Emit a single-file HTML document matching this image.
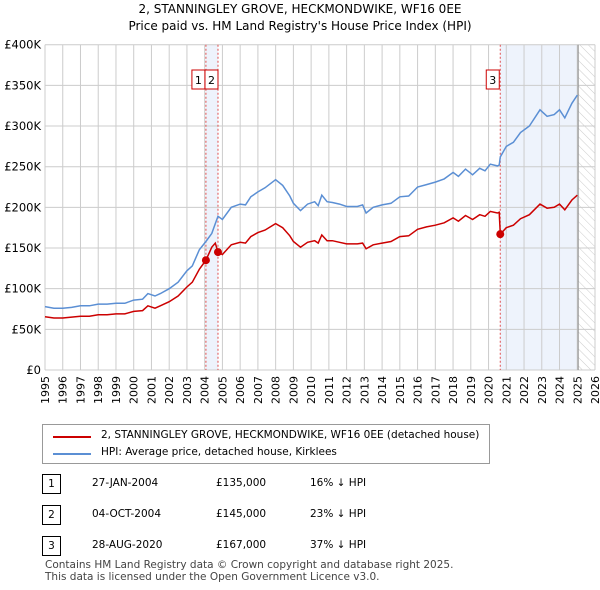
<!DOCTYPE html>
<html><head><meta charset="utf-8"><style>
body{margin:0;background:#fff;font-family:"DejaVu Sans","Liberation Sans",sans-serif;}
#w{position:relative;width:600px;height:590px;overflow:hidden;}
.t{position:absolute;font-size:12px;color:#000;white-space:nowrap;}
</style></head><body><div id="w">
<div class="t" style="left:0;width:600px;text-align:center;top:2px;font-size:12px">2, STANNINGLEY GROVE, HECKMONDWIKE, WF16 0EE</div>
<div class="t" style="left:0;width:600px;text-align:center;top:19px;font-size:12px">Price paid vs. HM Land Registry's House Price Index (HPI)</div>
<svg id="c" width="600" height="420" style="position:absolute;left:0;top:0;font-family:'DejaVu Sans',sans-serif"></svg>
<div style="position:absolute;left:42px;top:424px;width:446px;height:38px;border:1px solid #999;background:#fff">
<div style="position:absolute;left:10px;top:11px;width:38px;border-top:2px solid #cc0000"></div>
<div class="t" style="left:58px;top:4px;font-size:10.5px">2, STANNINGLEY GROVE, HECKMONDWIKE, WF16 0EE (detached house)</div>
<div style="position:absolute;left:10px;top:28px;width:38px;border-top:2px solid #5b8fd4"></div>
<div class="t" style="left:58px;top:21px;font-size:10.5px">HPI: Average price, detached house, Kirklees</div>
</div>
<div id="tbl"></div>
<div class="t" style="left:45px;top:559px;font-size:10.5px;color:#444">Contains HM Land Registry data © Crown copyright and database right 2025.</div>
<div class="t" style="left:45px;top:571px;font-size:10.5px;color:#444">This data is licensed under the Open Government Licence v3.0.</div>
</div>
<script>
const years=[1995,1995.5,1996,1996.5,1997,1997.5,1998,1998.5,1999,1999.5,2000,2000.5,2000.8,2001.2,2001.5,2002,2002.5,2003,2003.3,2003.7,2004.07,2004.4,2004.6,2004.75,2005,2005.5,2006,2006.3,2006.6,2007,2007.4,2008,2008.4,2008.8,2009,2009.4,2009.8,2010.2,2010.4,2010.6,2010.9,2011.2,2011.6,2012,2012.6,2012.9,2013.1,2013.5,2014,2014.5,2015,2015.5,2016,2016.5,2017,2017.5,2018,2018.3,2018.7,2019.1,2019.5,2019.8,2020.1,2020.5,2020.6,2020.66,2021,2021.4,2021.8,2022.3,2022.9,2023.3,2023.7,2024,2024.3,2024.7,2025];
const hpiValues=[78,76,76,77,79,79,81,81,82,82,86,87,94,91,94,100,108,122,128,148,158,168,180,189,185,200,204,203,213,219,224,234,227,214,205,196,204,207,202,215,207,206,204,201,201,203,193,200,203,205,213,214,225,228,231,235,243,238,247,240,248,245,253,251,252,262,275,280,292,300,320,312,314,320,310,328,338];
const priceValues=[65.5,64,64,65,66,66,68,68,69,69,72,73,79,76,79,84,91,102,108,124,135,151,156,145,142,154,157,156,164,169,172,180,175,165,158,151,157,159,156,166,159,159,157,155,155,156,149,154,156,158,164,165,173,176,178,181,187,183,190,185,191,189,195,193,194,167,175,178,186,191,204,199,200,204,197,209,215];
const saleDates=[2004.07,2004.75,2020.66];
const salePrices=[135,145,167];
const saleLabels=["1","2","3"];
const yTicks=[0,50,100,150,200,250,300,350,400];
const yTickLabels=["£0","£50K","£100K","£150K","£200K","£250K","£300K","£350K","£400K"];
const xTicks=[1995,1996,1997,1998,1999,2000,2001,2002,2003,2004,2005,2006,2007,2008,2009,2010,2011,2012,2013,2014,2015,2016,2017,2018,2019,2020,2021,2022,2023,2024,2025,2026];
const rowDates=["27-JAN-2004","04-OCT-2004","28-AUG-2020"];
const rowPrices=["£135,000","£145,000","£167,000"];
const rowHpi=["16% ↓ HPI","23% ↓ HPI","37% ↓ HPI"];

const L=45,R=595,T=44.7,B=370,x0=1995,x1=2026,ymax=400;
const X=v=>L+(v-x0)/(x1-x0)*(R-L);
const Y=v=>B-v/ymax*(B-T);
const s=document.getElementById('c');const NS='http://www.w3.org/2000/svg';
function add(tag,attrs,name,parent){const e=document.createElementNS(NS,tag);for(const k in attrs)e.setAttribute(k,attrs[k]);


(parent||s).appendChild(e);return e;}
const defs=add('defs',{},'defs');
const pat=add('pattern',{id:'h',width:6,height:6,patternUnits:'userSpaceOnUse',patternTransform:'rotate(-45)'},'hatch-pattern',defs);
add('line',{x1:0,y1:0,x2:0,y2:6,stroke:'#ccc','stroke-width':1},'hatch-line',pat);
add('rect',{x:X(saleDates[0]),y:T,width:X(saleDates[1])-X(saleDates[0]),height:B-T,fill:'#eef3fc'},'shade-sale-1-2');
add('rect',{x:X(saleDates[2]),y:T,width:X(2025.05)-X(saleDates[2]),height:B-T,fill:'#eef3fc'},'shade-sale-3');
add('rect',{x:X(2025.05),y:T,width:R-X(2025.05),height:B-T,fill:'url(#h)'},'future-hatch');
xTicks.forEach(v=>{add('line',{x1:X(v),x2:X(v),y1:T,y2:B,stroke:'#ccc'},'x-gridline');
const xx=X(v)+4,yy=376;
const t=add('text',{x:xx,y:yy,'text-anchor':'end','font-size':11,fill:'#000',transform:'rotate(-90 '+xx+' '+yy+')'},'x-tick-label');t.textContent=v;});
yTicks.forEach((v,i)=>{add('line',{x1:L,x2:R,y1:Y(v),y2:Y(v),stroke:'#ccc'},'y-gridline');
const t=add('text',{x:41,y:Y(v)+4,'text-anchor':'end','font-size':11.5,fill:'#000'},'y-tick-label');t.textContent=yTickLabels[i];});
add('line',{x1:X(2025.05),x2:X(2025.05),y1:T,y2:B,stroke:'#999','stroke-width':1.2},'data-end-line');
saleDates.forEach(d=>add('line',{x1:X(d),x2:X(d),y1:T,y2:B,stroke:'#e05050','stroke-dasharray':'2,2'},'sale-date-line'));
const pts=a=>years.map((y,i)=>X(y).toFixed(1)+','+Y(a[i]).toFixed(1)).join(' ');
add('polyline',{points:pts(hpiValues),fill:'none',stroke:'#5b8fd4','stroke-width':1.5},'hpi-line');
add('polyline',{points:pts(priceValues),fill:'none',stroke:'#cc0000','stroke-width':1.5},'price-paid-line');
saleDates.forEach((d,i)=>{add('circle',{cx:X(d),cy:Y(salePrices[i]),r:4,fill:'#cc0000'},'sale-marker');
const bx=i==0?X(d)-14:(i==1?X(d)-13:X(d)-14);
add('rect',{x:bx,y:70,width:13,height:19,fill:'#fff',stroke:'#cc0000'},'sale-label-box');
const t=add('text',{x:bx+6.5,y:84,'text-anchor':'middle','font-size':11,fill:'#000'},'sale-label');t.textContent=saleLabels[i];});
const tb=document.getElementById('tbl');const tops=[474,505,536];
rowDates.forEach((d,i)=>{const r=document.createElement('div');


r.style.cssText='position:absolute;left:0;top:'+tops[i]+'px;width:600px;height:20px;font-size:10.5px';
r.innerHTML='<div style="position:absolute;left:42px;top:0;width:17px;height:18px;border:1px solid #000;text-align:center;line-height:18px">'+saleLabels[i]+'</div><div style="position:absolute;left:92px;top:3px">'+d+'</div><div style="position:absolute;left:216px;top:3px">'+rowPrices[i]+'</div><div style="position:absolute;left:310px;top:3px">'+rowHpi[i]+'</div>';
tb.appendChild(r);});
</script></body></html>
